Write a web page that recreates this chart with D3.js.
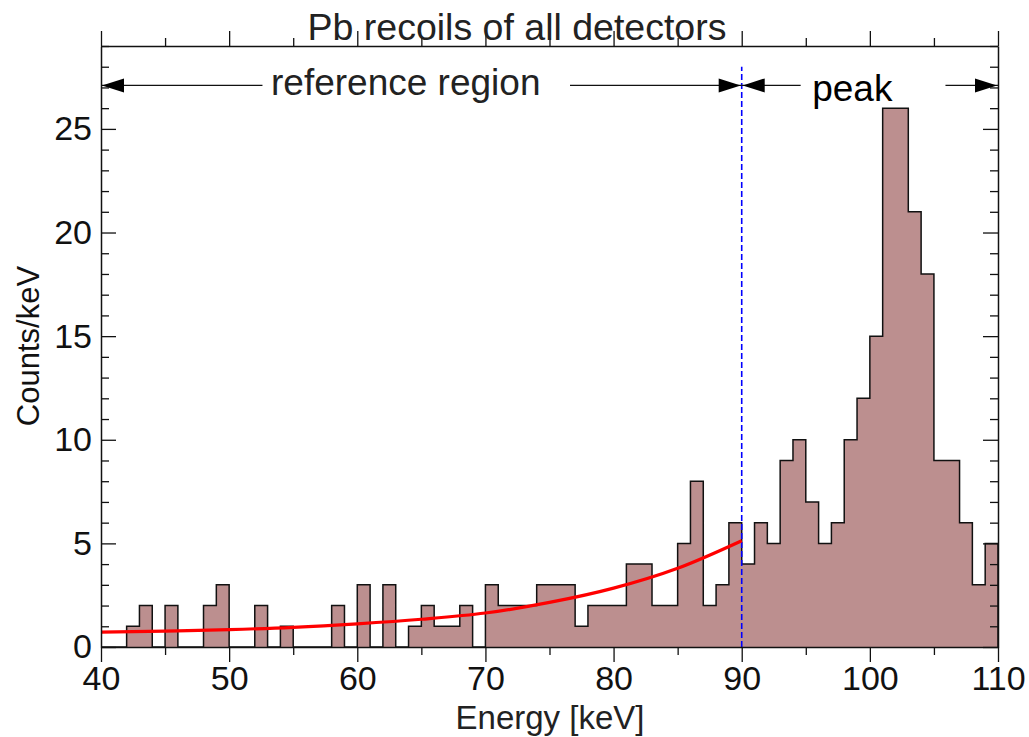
<!DOCTYPE html>
<html>
<head>
<meta charset="utf-8">
<script src="https://cdn.jsdelivr.net/npm/d3@7"></script>
<style>
  html, body { margin: 0; padding: 0; background: #fff; }
  svg { display: block; }
  text { font-family: "Liberation Sans", Arial, Helvetica, sans-serif; fill: #111; }
</style>
</head>
<body>
<svg id="chart" width="1029" height="737"></svg>
<script>
// Histogram: 1 keV bins, lower edges 40..109 keV
const binStart = d3.range(40, 110);
const counts = [
  0, 0, 1, 2, 0, 2, 0, 0, 2, 3,   // 40-49
  0, 0, 2, 0, 1, 0, 0, 0, 2, 0,   // 50-59
  3, 0, 3, 0, 1, 2, 1, 1, 2, 0,   // 60-69
  3, 2, 2, 2, 3, 3, 3, 1, 2, 2,   // 70-79
  2, 4, 4, 2, 2, 5, 8, 2, 3, 6,   // 80-89
  4, 6, 5, 9, 10, 7, 5, 6, 10, 12, // 90-99
  15, 26, 26, 21, 18, 9, 9, 6, 3, 5 // 100-109
];

// Background fit over the reference region
const fitEnergy = [40, 45, 50, 55, 60, 65, 70, 75, 80, 85, 90];
const fitCounts = [0.72, 0.77, 0.84, 0.95, 1.12, 1.34, 1.64, 2.15, 2.84, 3.80, 5.13];

const xTicksMajor = [40, 50, 60, 70, 80, 90, 100, 110];
const yTicksMajor = [0, 5, 10, 15, 20, 25];

const regionBoundary = 90;
const titleText = "Pb recoils of all detectors";
const xLabel = "Energy [keV]";
const yLabel = "Counts/keV";

const svg = d3.select("#chart");
const m = { left: 101, right: 31, top: 46, bottom: 90 };
const W = 1029, H = 737;

const x = d3.scaleLinear().domain([40, 110]).range([m.left, W - m.right]);
const y = d3.scaleLinear().domain([0, 29]).range([H - m.bottom, m.top]);

// step points for the histogram outline
const pts = binStart.map((e, i) => [e, counts[i]]);
pts.push([110, counts[counts.length - 1]]);

const area = d3.area()
  .x(d => x(d[0])).y0(y(0)).y1(d => y(d[1]))
  .curve(d3.curveStepAfter);
svg.append("path").datum(pts)
  .attr("d", area)
  .attr("fill", "rosybrown");

const outline = pts.concat([[110, 0]]);
svg.append("path").datum(outline)
  .attr("d", d3.line().x(d => x(d[0])).y(d => y(d[1])).curve(d3.curveStepAfter))
  .attr("fill", "none")
  .attr("stroke", "#111")
  .attr("stroke-width", 1.5);

// region boundary
svg.append("line")
  .attr("x1", x(regionBoundary)).attr("x2", x(regionBoundary))
  .attr("y1", y(0)).attr("y2", y(28))
  .attr("stroke", "#0000ff").attr("stroke-width", 1.6)
  .attr("stroke-dasharray", "6,3");

// fit curve
svg.append("path")
  .datum(fitEnergy.map((e, i) => [e, fitCounts[i]]))
  .attr("d", d3.line().x(d => x(d[0])).y(d => y(d[1])).curve(d3.curveMonotoneX))
  .attr("fill", "none")
  .attr("stroke", "red")
  .attr("stroke-width", 3.2);

// axes
const axisColor = "#111";
function styleAxis(g) {
  g.select(".domain").attr("stroke", axisColor).attr("stroke-width", 1.5);
  g.selectAll(".tick line").attr("stroke", axisColor).attr("stroke-width", 1.3);
  g.selectAll(".tick text").attr("fill", "#000")
    .style("font-family", '"Liberation Sans", Arial, sans-serif');
}
const xMinor = d3.range(40, 111, 5).filter(v => v % 10 !== 0);
const yMinor = d3.range(0, 30, 1).filter(v => v % 5 !== 0);

// bottom
svg.append("g").attr("transform", `translate(0,${y(0)})`)
  .call(d3.axisBottom(x).tickValues(xTicksMajor).tickSize(15).tickSizeOuter(0).tickPadding(4).tickFormat(d3.format("d")))
  .call(g => { styleAxis(g); g.selectAll(".tick text").style("font-size", "34px"); });
svg.append("g").attr("transform", `translate(0,${y(0)})`)
  .call(d3.axisBottom(x).tickValues(xMinor).tickSize(8).tickFormat(""))
  .call(g => { styleAxis(g); g.select(".domain").remove(); });
// top
svg.append("g").attr("transform", `translate(0,${m.top})`)
  .call(d3.axisTop(x).tickValues(xTicksMajor).tickSize(15).tickSizeOuter(0).tickFormat(""))
  .call(styleAxis);
svg.append("g").attr("transform", `translate(0,${m.top})`)
  .call(d3.axisTop(x).tickValues(xMinor).tickSize(8).tickFormat(""))
  .call(g => { styleAxis(g); g.select(".domain").remove(); });
// left (ticks point inward)
svg.append("g").attr("transform", `translate(${m.left},0)`)
  .call(d3.axisLeft(y).tickValues(yTicksMajor).tickSize(-15).tickSizeOuter(0).tickPadding(9))
  .call(g => { styleAxis(g); g.selectAll(".tick text").style("font-size", "34px"); });
svg.append("g").attr("transform", `translate(${m.left},0)`)
  .call(d3.axisLeft(y).tickValues(yMinor).tickSize(-8).tickFormat(""))
  .call(g => { styleAxis(g); g.select(".domain").remove(); });
// right (ticks point inward)
svg.append("g").attr("transform", `translate(${W - m.right},0)`)
  .call(d3.axisRight(y).tickValues(yTicksMajor).tickSize(-15).tickSizeOuter(0).tickFormat(""))
  .call(styleAxis);
svg.append("g").attr("transform", `translate(${W - m.right},0)`)
  .call(d3.axisRight(y).tickValues(yMinor).tickSize(-8).tickFormat(""))
  .call(g => { styleAxis(g); g.select(".domain").remove(); });

// titles
svg.append("text").attr("x", 517).attr("y", 40)
  .attr("text-anchor", "middle").style("font-size", "37.5px").style("fill", "#222")
  .text(titleText);
svg.append("text").attr("x", 550).attr("y", 729)
  .attr("text-anchor", "middle").style("font-size", "33px").style("fill", "#222")
  .text(xLabel);
svg.append("text").attr("transform", "translate(39,346) rotate(-90)")
  .attr("text-anchor", "middle").style("font-size", "31px").style("fill", "#111")
  .text(yLabel);

// region annotations
const arrowY = y(27.1);
function seg(e0, e1) {
  svg.append("line").attr("x1", x(e0)).attr("x2", x(e1))
    .attr("y1", arrowY).attr("y2", arrowY)
    .attr("stroke", "#111").attr("stroke-width", 1.2);
}
function head(eTip, dir) {
  const tx = x(eTip) - dir * 1, len = 22, hw = 7;
  svg.append("path")
    .attr("d", `M${tx},${arrowY} L${tx - dir * len},${arrowY - hw} L${tx - dir * len},${arrowY + hw} Z`)
    .attr("fill", "#000");
}
// reference region 40-90
seg(40, 52.6); seg(76.6, 90);
head(40, -1); head(90, 1);
svg.append("text").attr("x", x(53.27)).attr("y", 95)
  .style("font-size", "37px").style("fill", "#222").text("reference region");
// peak 90-110
seg(90, 94.6); seg(105.9, 110);
head(90, -1); head(110, 1);
svg.append("text").attr("x", x(95.5)).attr("y", 101)
  .style("font-size", "37px").style("fill", "#000").text("peak");
</script>
</body>
</html>
